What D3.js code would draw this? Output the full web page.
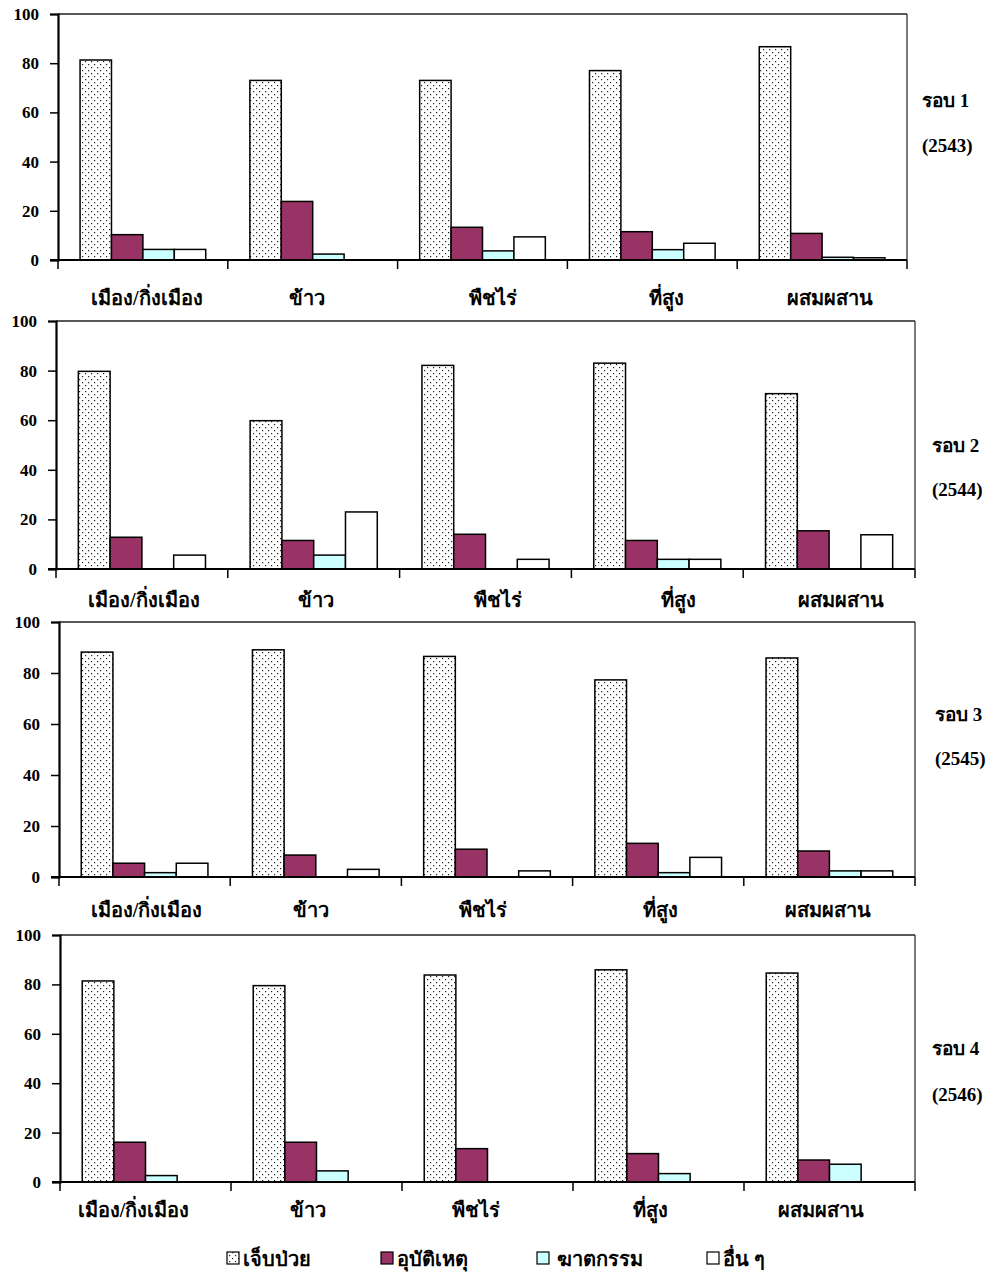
<!DOCTYPE html>
<html><head><meta charset="utf-8">
<script src="https://cdn.jsdelivr.net/npm/d3@7"></script>
<style>body{margin:0;background:#fff}svg{display:block}</style>
</head><body><svg id="c" width="992" height="1274"></svg>
<script>
// ---------- data ----------
const categories = ["เมือง/กิ่งเมือง", "ข้าว", "พืชไร่", "ที่สูง", "ผสมผสาน"];
const seriesNames = ["เจ็บป่วย", "อุบัติเหตุ", "ฆาตกรรม", "อื่น ๆ"];
const roundLabels = ["รอบ 1", "รอบ 2", "รอบ 3", "รอบ 4"];
const yearLabels = ["(2543)", "(2544)", "(2545)", "(2546)"];
const yTicks = [0, 20, 40, 60, 80, 100];

// round 1 (2543)
const r1Illness  = [81.3, 73.0, 73.0, 77.0, 86.7];
const r1Accident = [10.3, 23.8, 13.3, 11.5, 10.8];
const r1Homicide = [4.3, 2.4, 3.7, 4.2, 1.1];
const r1Other    = [4.3, 0, 9.4, 6.8, 0.9];
// round 2 (2544)
const r2Illness  = [79.7, 59.8, 82.1, 83.0, 70.7];
const r2Accident = [12.8, 11.5, 14.0, 11.5, 15.4];
const r2Homicide = [0, 5.6, 0, 3.9, 0];
const r2Other    = [5.6, 23.0, 3.9, 3.9, 13.8];
// round 3 (2545)
const r3Illness  = [88.2, 89.1, 86.5, 77.3, 85.9];
const r3Accident = [5.4, 8.6, 10.9, 13.2, 10.2];
const r3Homicide = [1.7, 0, 0, 1.7, 2.4];
const r3Other    = [5.4, 3.0, 2.4, 7.7, 2.4];
// round 4 (2546)
const r4Illness  = [81.4, 79.5, 83.8, 85.9, 84.6];
const r4Accident = [16.1, 16.1, 13.5, 11.5, 8.9];
const r4Homicide = [2.6, 4.5, 0, 3.4, 7.2];
const r4Other    = [0, 0, 0, 0, 0];

const rounds = [
  [r1Illness, r1Accident, r1Homicide, r1Other],
  [r2Illness, r2Accident, r2Homicide, r2Other],
  [r3Illness, r3Accident, r3Homicide, r3Other],
  [r4Illness, r4Accident, r4Homicide, r4Other]
];

// ---------- layout (positions, not data) ----------
const panels = [
  {left: 58, right: 907, top: 14,  bottom: 260,  labY: 298,  rY: 100,  yY: 145,  rX: 922, off: [4, -6, 10, 14, 8]},
  {left: 56, right: 915, top: 321, bottom: 569,  labY: 600,  rY: 445,  yY: 489,  rX: 932, off: [2, 2, 12, 21, 12]},
  {left: 59, right: 915, top: 622, bottom: 877,  labY: 910,  rY: 714,  yY: 758,  rX: 935, off: [2, -5, -4, 2, -1]},
  {left: 60, right: 915, top: 935, bottom: 1182, labY: 1210, rY: 1048, yY: 1094, rX: 932, off: [-12, -9, -12, -8, -9]}
];
const fills = ["url(#dots)", "#993366", "#CCFFFF", "#FFFFFF"];
const FONT = "'Liberation Serif','Times New Roman',serif";

const svg = d3.select("#c");
const defs = svg.append("defs");
const pat = defs.append("pattern").attr("id", "dots")
  .attr("patternUnits", "userSpaceOnUse").attr("width", 6).attr("height", 6);
pat.append("rect").attr("width", 6).attr("height", 6).attr("fill", "#fff");
pat.append("rect").attr("x", 1).attr("y", 1).attr("width", 1.2).attr("height", 1.2).attr("fill", "#222");
pat.append("rect").attr("x", 4).attr("y", 4).attr("width", 1.2).attr("height", 1.2).attr("fill", "#222");

rounds.forEach((vals, ri) => {
  const p = panels[ri];
  const g = svg.append("g");
  const x0 = d3.scaleBand().domain(categories).range([p.left, p.right]).paddingInner(0).paddingOuter(0);
  const bw = x0.bandwidth();
  const x1 = d3.scaleBand().domain(seriesNames).range([bw * 0.13, bw * 0.87]).padding(0);
  const y = d3.scaleLinear().domain([0, 100]).range([p.bottom, p.top]);

  // frame (top & right)
  g.append("line").attr("x1", p.left).attr("x2", p.right).attr("y1", p.top).attr("y2", p.top)
    .attr("stroke", "#222").attr("stroke-width", 1.5);
  g.append("line").attr("x1", p.right).attr("x2", p.right).attr("y1", p.top).attr("y2", p.bottom)
    .attr("stroke", "#222").attr("stroke-width", 1.2);

  // bars
  categories.forEach((cat, ci) => {
    seriesNames.forEach((s, si) => {
      const v = vals[si][ci];
      if (v <= 0) return;
      g.append("rect")
        .attr("x", x0(cat) + x1(s))
        .attr("y", y(v))
        .attr("width", x1.bandwidth())
        .attr("height", y(0) - y(v))
        .attr("fill", fills[si])
        .attr("stroke", "#000").attr("stroke-width", 1.5);
    });
  });

  // y axis
  const ya = g.append("g").attr("transform", `translate(${p.left},0)`)
    .call(d3.axisLeft(y).tickValues(yTicks).tickSize(8).tickPadding(11).tickFormat(d3.format("d")));
  ya.select(".domain").attr("stroke", "#000").attr("stroke-width", 2.2);
  ya.selectAll(".tick line").attr("stroke", "#000").attr("stroke-width", 1.5);
  ya.selectAll("text").attr("font-family", FONT).attr("font-weight", "bold").attr("font-size", 17).attr("fill", "#000");

  // x axis with ticks at category boundaries
  const xa = g.append("g").attr("transform", `translate(0,${p.bottom})`);
  xa.append("line").attr("x1", p.left - 8).attr("x2", p.right).attr("stroke", "#000").attr("stroke-width", 2.2);
  const bounds = categories.map(c => x0(c)).concat([p.right]);
  xa.selectAll("line.tk").data(bounds).enter().append("line").attr("class", "tk")
    .attr("x1", d => d).attr("x2", d => d).attr("y1", 0).attr("y2", 9)
    .attr("stroke", "#000").attr("stroke-width", 1.5);

  // category labels
  g.selectAll("text.cat").data(categories).enter().append("text").attr("class", "cat")
    .attr("x", (d, i) => x0(d) + bw / 2 + p.off[i])
    .attr("y", p.labY).attr("dy", "0.35em")
    .attr("text-anchor", "middle")
    .attr("font-family", FONT).attr("font-weight", "bold").attr("font-size", 20)
    .text(d => d);

  // round labels
  g.append("text").attr("x", p.rX).attr("y", p.rY).attr("dy", "0.35em")
    .attr("font-family", FONT).attr("font-weight", "bold").attr("font-size", 19).text(roundLabels[ri]);
  g.append("text").attr("x", p.rX).attr("y", p.yY).attr("dy", "0.35em")
    .attr("font-family", FONT).attr("font-weight", "bold").attr("font-size", 19).text(yearLabels[ri]);
});

// legend
const legX = [227, 381, 537, 707];
const lg = svg.append("g");
seriesNames.forEach((s, i) => {
  lg.append("rect").attr("x", legX[i]).attr("y", 1252).attr("width", 12).attr("height", 12)
    .attr("fill", fills[i]).attr("stroke", "#000").attr("stroke-width", 1.2);
  lg.append("text").attr("x", legX[i] + (i === 2 ? 20 : 16)).attr("y", 1259).attr("dy", "0.35em")
    .attr("font-family", FONT).attr("font-weight", "bold").attr("font-size", 20).text(s);
});
</script></body></html>
